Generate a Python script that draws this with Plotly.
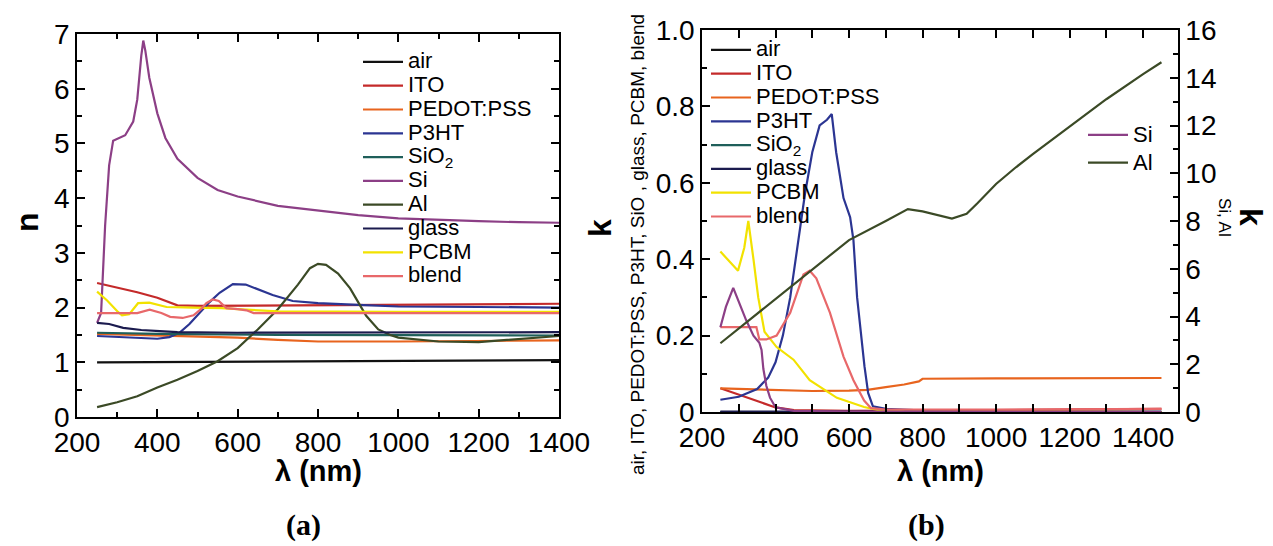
import plotly.graph_objects as go

W, H = 1273, 546
def px(x): return x / W
def py(y): return 1 - y / H

# ---------------- (a) refractive index n ----------------
wl_air_n = [250, 600, 1000, 1400]
n_air = [1.0, 1.01, 1.03, 1.04]

wl_ito_n = [250, 300, 350, 400, 430, 450, 500, 700, 1000, 1400]
n_ito = [2.45, 2.37, 2.28, 2.18, 2.1, 2.04, 2.03, 2.04, 2.05, 2.07]

wl_pedot_n = [250, 300, 400, 500, 600, 700, 800, 1000, 1200, 1400]
n_pedot = [1.52, 1.51, 1.49, 1.47, 1.45, 1.41, 1.38, 1.38, 1.39, 1.4]

wl_p3ht_n = [250, 300, 350, 400, 430, 455, 480, 505, 530, 555, 588, 620, 650, 687, 737, 800, 900, 1000, 1200, 1400]
n_p3ht = [1.48, 1.46, 1.44, 1.43, 1.46, 1.54, 1.7, 1.9, 2.1, 2.27, 2.43, 2.42, 2.33, 2.23, 2.12, 2.08, 2.05, 2.02, 2.01, 2.0]

wl_sio2_n = [250, 400, 700, 1000, 1400]
n_sio2 = [1.54, 1.52, 1.5, 1.5, 1.49]

wl_si_n = [250, 260, 270, 280, 290, 300, 320, 340, 350, 360, 365, 370, 380, 400, 420, 450, 500, 550, 600, 700, 800, 900, 1000, 1100, 1200, 1300, 1400]
n_si = [1.72, 1.9, 3.5, 4.6, 5.05, 5.08, 5.15, 5.4, 5.8, 6.6, 6.88, 6.7, 6.2, 5.55, 5.1, 4.72, 4.37, 4.15, 4.03, 3.86, 3.77, 3.69, 3.63, 3.6, 3.58, 3.56, 3.55]

wl_al_n = [250, 300, 350, 400, 450, 500, 550, 600, 650, 700, 750, 780, 800, 820, 850, 880, 900, 920, 950, 980, 1000, 1100, 1200, 1300, 1400]
n_al = [0.18, 0.27, 0.38, 0.54, 0.68, 0.84, 1.02, 1.26, 1.6, 1.97, 2.42, 2.72, 2.8, 2.78, 2.62, 2.35, 2.1, 1.85, 1.6, 1.5, 1.45, 1.38, 1.37, 1.42, 1.48]

wl_glass_n = [250, 280, 315, 360, 406, 450, 600, 1000, 1400]
n_glass = [1.72, 1.7, 1.63, 1.59, 1.57, 1.55, 1.54, 1.54, 1.55]

wl_pcbm_n = [250, 275, 302, 312, 330, 352, 380, 423, 489, 560, 600, 700, 1000, 1400]
n_pcbm = [2.29, 2.13, 1.92, 1.86, 1.88, 2.08, 2.09, 2.01, 2.0, 1.99, 1.97, 1.93, 1.92, 1.92]

wl_blend_n = [250, 350, 381, 410, 432, 463, 490, 510, 522, 538, 553, 572, 600, 622, 640, 700, 1000, 1400]
n_blend = [1.9, 1.9, 1.96, 1.9, 1.83, 1.81, 1.86, 1.98, 2.08, 2.15, 2.12, 1.99, 1.97, 1.95, 1.9, 1.9, 1.9, 1.9]

# ---------------- (b) extinction coefficient k ----------------
wl_air_k = [250, 1450]
k_air = [0.0, 0.0]

wl_ito_k = [250, 300, 350, 400, 450, 600, 1000, 1450]
k_ito = [0.062, 0.045, 0.03, 0.012, 0.005, 0.003, 0.005, 0.008]

wl_pedot_k = [250, 400, 500, 600, 650, 700, 750, 790, 800, 1000, 1450]
k_pedot = [0.062, 0.058, 0.055, 0.056, 0.058, 0.065, 0.072, 0.08, 0.087, 0.088, 0.089]

wl_p3ht_k = [250, 300, 350, 380, 400, 420, 440, 460, 480, 500, 520, 540, 553, 565, 585, 603, 612, 622, 632, 642, 652, 665, 700, 750, 800, 900, 1450]
k_p3ht = [0.032, 0.04, 0.06, 0.09, 0.13, 0.2, 0.3, 0.43, 0.57, 0.68, 0.75, 0.765, 0.78, 0.68, 0.56, 0.51, 0.45, 0.3, 0.2, 0.12, 0.05, 0.015, 0.008, 0.006, 0.003, 0.0, 0.0]

wl_sio2_k = [250, 1450]
k_sio2 = [0.0, 0.0]

wl_glass_k = [250, 1450]
k_glass = [0.001, 0.001]

wl_pcbm_k = [250, 298, 315, 326, 340, 353, 370, 403, 449, 493, 567, 641, 680, 750, 1450]
k_pcbm = [0.42, 0.37, 0.43, 0.5, 0.4, 0.3, 0.21, 0.17, 0.137, 0.083, 0.037, 0.013, 0.005, 0.002, 0.0]

wl_blend_k = [250, 348, 356, 375, 403, 440, 476, 493, 511, 548, 585, 612, 641, 660, 700, 1000, 1450]
k_blend = [0.222, 0.222, 0.19, 0.19, 0.2, 0.26, 0.36, 0.37, 0.35, 0.26, 0.145, 0.083, 0.03, 0.01, 0.006, 0.006, 0.008]

# Si and Al on the right-hand k axis (0-16)
wl_si_k = [250, 265, 285, 300, 320, 340, 356, 362, 367, 375, 385, 400, 450, 600, 1450]
k_si = [3.55, 4.4, 5.2, 4.6, 3.85, 3.2, 2.9, 2.6, 1.8, 1.1, 0.6, 0.2, 0.05, 0.02, 0.0]

wl_al_k = [250, 300, 400, 500, 600, 700, 760, 800, 850, 880, 920, 950, 1000, 1050, 1100, 1200, 1300, 1400, 1450]
k_al = [2.88, 3.5, 4.7, 5.95, 7.2, 8.0, 8.5, 8.4, 8.2, 8.1, 8.3, 8.75, 9.55, 10.2, 10.8, 11.95, 13.1, 14.15, 14.65]

colors = {
    "air": "#111111", "ITO": "#c42a2a", "PEDOT:PSS": "#e8641e", "P3HT": "#2b3592",
    "SiO2": "#1f5f5a", "Si": "#8c3f86", "Al": "#3b4a26", "glass": "#1b1b4e",
    "PCBM": "#f2e200", "blend": "#e8686a",
}
label = {"SiO2": "SiO<sub>2</sub>"}

def lg(name, size):
    return '<span style="font-size:%dpx">%s</span>' % (size, label.get(name, name))

fig = go.Figure()

left_series = [
    ("air", wl_air_n, n_air), ("ITO", wl_ito_n, n_ito), ("PEDOT:PSS", wl_pedot_n, n_pedot),
    ("P3HT", wl_p3ht_n, n_p3ht), ("SiO2", wl_sio2_n, n_sio2), ("Si", wl_si_n, n_si),
    ("Al", wl_al_n, n_al), ("glass", wl_glass_n, n_glass), ("PCBM", wl_pcbm_n, n_pcbm),
    ("blend", wl_blend_n, n_blend),
]
for name, xs, ys in left_series:
    fig.add_trace(go.Scatter(x=xs, y=ys, mode="lines", name=lg(name, 22),
                             line=dict(color=colors[name], width=2.2),
                             xaxis="x", yaxis="y", legend="legend"))

right_series = [
    ("air", wl_air_k, k_air), ("ITO", wl_ito_k, k_ito), ("PEDOT:PSS", wl_pedot_k, k_pedot),
    ("P3HT", wl_p3ht_k, k_p3ht), ("SiO2", wl_sio2_k, k_sio2), ("glass", wl_glass_k, k_glass),
    ("PCBM", wl_pcbm_k, k_pcbm), ("blend", wl_blend_k, k_blend),
]
for name, xs, ys in right_series:
    fig.add_trace(go.Scatter(x=xs, y=ys, mode="lines", name=lg(name, 22),
                             line=dict(color=colors[name], width=2.2),
                             xaxis="x2", yaxis="y2", legend="legend2"))

for name, xs, ys in [("Si", wl_si_k, k_si), ("Al", wl_al_k, k_al)]:
    fig.add_trace(go.Scatter(x=xs, y=ys, mode="lines", name=lg(name, 22),
                             line=dict(color=colors[name], width=2.2),
                             xaxis="x2", yaxis="y3", legend="legend3"))

FONT = "Liberation Sans, Arial, sans-serif"
tickfont = dict(family=FONT, size=28, color="black")
axis_common = dict(showline=True, linecolor="black", linewidth=1.5, ticks="inside",
                   ticklen=8, tickwidth=1.5, tickcolor="black", showgrid=False,
                   zeroline=False, tickfont=tickfont)
minor_common = dict(ticks="inside", ticklen=5, tickwidth=1.5, tickcolor="black", showgrid=False)

k_ticks = [0, 0.2, 0.4, 0.6, 0.8, 1.0]
k_ticktext = ["0", "0.2", "0.4", "0.6", "0.8", "1.0"]

fig.update_layout(
    width=W, height=H, margin=dict(l=0, r=0, t=0, b=0, autoexpand=False),
    paper_bgcolor="white", plot_bgcolor="white",
    font=dict(family=FONT, color="black"),
    xaxis=dict(domain=[px(77), px(559)], range=[200, 1400], anchor="y", tick0=200, dtick=200,
               minor=dict(dtick=100, **minor_common), mirror="allticks", **axis_common),
    yaxis=dict(domain=[py(417), py(34)], range=[0, 7], anchor="x", tick0=0, dtick=1,
               minor=dict(dtick=0.5, **minor_common), mirror="allticks", **axis_common),
    xaxis2=dict(domain=[px(702), px(1178)], range=[200, 1495], anchor="y2", tick0=200, dtick=200,
                minor=dict(dtick=100, **minor_common), mirror="allticks", **axis_common),
    yaxis2=dict(domain=[py(412), py(30)], range=[0, 1], anchor="x2", tickvals=k_ticks,
                ticktext=k_ticktext, minor=dict(dtick=0.1, **minor_common), **axis_common),
    yaxis3=dict(range=[0, 16], overlaying="y2", anchor="x2", side="right", tick0=0, dtick=2,
                minor=dict(dtick=1, **minor_common), **axis_common),
    legend=dict(x=px(358), y=py(45), xanchor="left", yanchor="top", bgcolor="rgba(0,0,0,0)",
                font=dict(family=FONT, size=16, color="black"), itemwidth=40, borderwidth=0),
    legend2=dict(x=px(706), y=py(33), xanchor="left", yanchor="top", bgcolor="rgba(0,0,0,0)",
                 font=dict(family=FONT, size=16, color="black"), itemwidth=40, borderwidth=0),
    legend3=dict(x=px(1083), y=py(116), xanchor="left", yanchor="top", bgcolor="rgba(0,0,0,0)",
                 font=dict(family=FONT, size=19, color="black"), itemwidth=40, borderwidth=0),
    showlegend=True,
)

ann = []
def add_text(x, y, text, size, angle=0, bold=False, family=FONT):
    ann.append(dict(x=px(x), y=py(y), xref="paper", yref="paper", text=text, showarrow=False,
                    textangle=angle, xanchor="center", yanchor="middle",
                    font=dict(family=family, size=size, color="black",
                              weight="bold" if bold else "normal")))

add_text(318, 471, "λ (nm)", 29, bold=True)
add_text(940, 471, "λ (nm)", 29, bold=True)
add_text(27, 222, "n", 32, angle=-90, bold=True)
add_text(600, 228, "k", 32, angle=-90, bold=True)
add_text(638, 245, "air, ITO, PEDOT:PSS, P3HT, SiO , glass, PCBM, blend", 19, angle=-90)
add_text(1251, 217, "k", 32, angle=90, bold=True)
add_text(1224, 217, "Si, Al", 17, angle=90)
add_text(303, 525, "(a)", 30, bold=True, family="Liberation Serif, Times New Roman, serif")
add_text(926, 525, "(b)", 30, bold=True, family="Liberation Serif, Times New Roman, serif")
fig.update_layout(annotations=ann)

fig.write_html("out.html")
